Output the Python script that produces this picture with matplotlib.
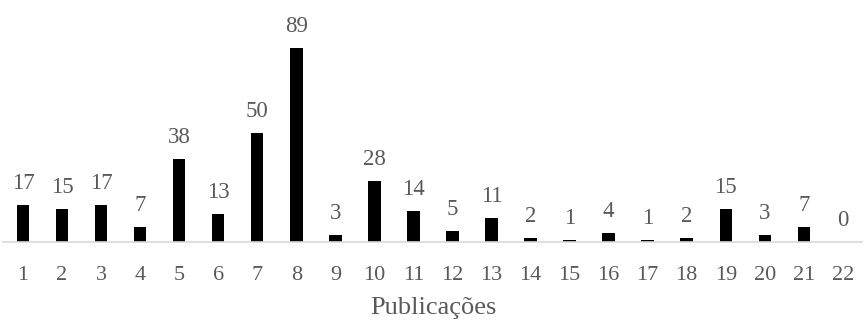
import matplotlib.pyplot as plt
import numpy as np

categories = [str(i) for i in range(1, 23)]
values = [17, 15, 17, 7, 38, 13, 50, 89, 3, 28, 14, 5, 11, 2, 1, 4, 1, 2, 15, 3, 7, 0]

plt.rcParams['font.family'] = ['Liberation Serif', 'DejaVu Serif']
text_color = '#595959'

fig = plt.figure(figsize=(8.65, 3.23), dpi=100)
ax = fig.add_axes([0.004, 0.2508, 0.993, 0.7492])

x = np.arange(1, len(values) + 1)
bars = ax.bar(x, values, width=0.32, color='black')

for xi, v in zip(x, values):
    ax.annotate(str(v), (xi, v), xytext=(0, 8), textcoords='offset points',
                ha='center', va='bottom', fontsize=16.5, color=text_color)

ax.set_xlim(0.5, 22.5)
ax.set_ylim(0, 111)
ax.set_xticks(x)
ax.set_xticklabels(categories, fontsize=16, color=text_color)
ax.tick_params(axis='x', length=0, pad=17)
ax.set_yticks([])
for side in ['top', 'right', 'left']:
    ax.spines[side].set_visible(False)
ax.spines['bottom'].set_color('#d9d9d9')
ax.spines['bottom'].set_linewidth(1.2)

ax.set_xlabel('Publicações', fontsize=19, color=text_color, labelpad=9)

fig.savefig('out.png', dpi=100)
